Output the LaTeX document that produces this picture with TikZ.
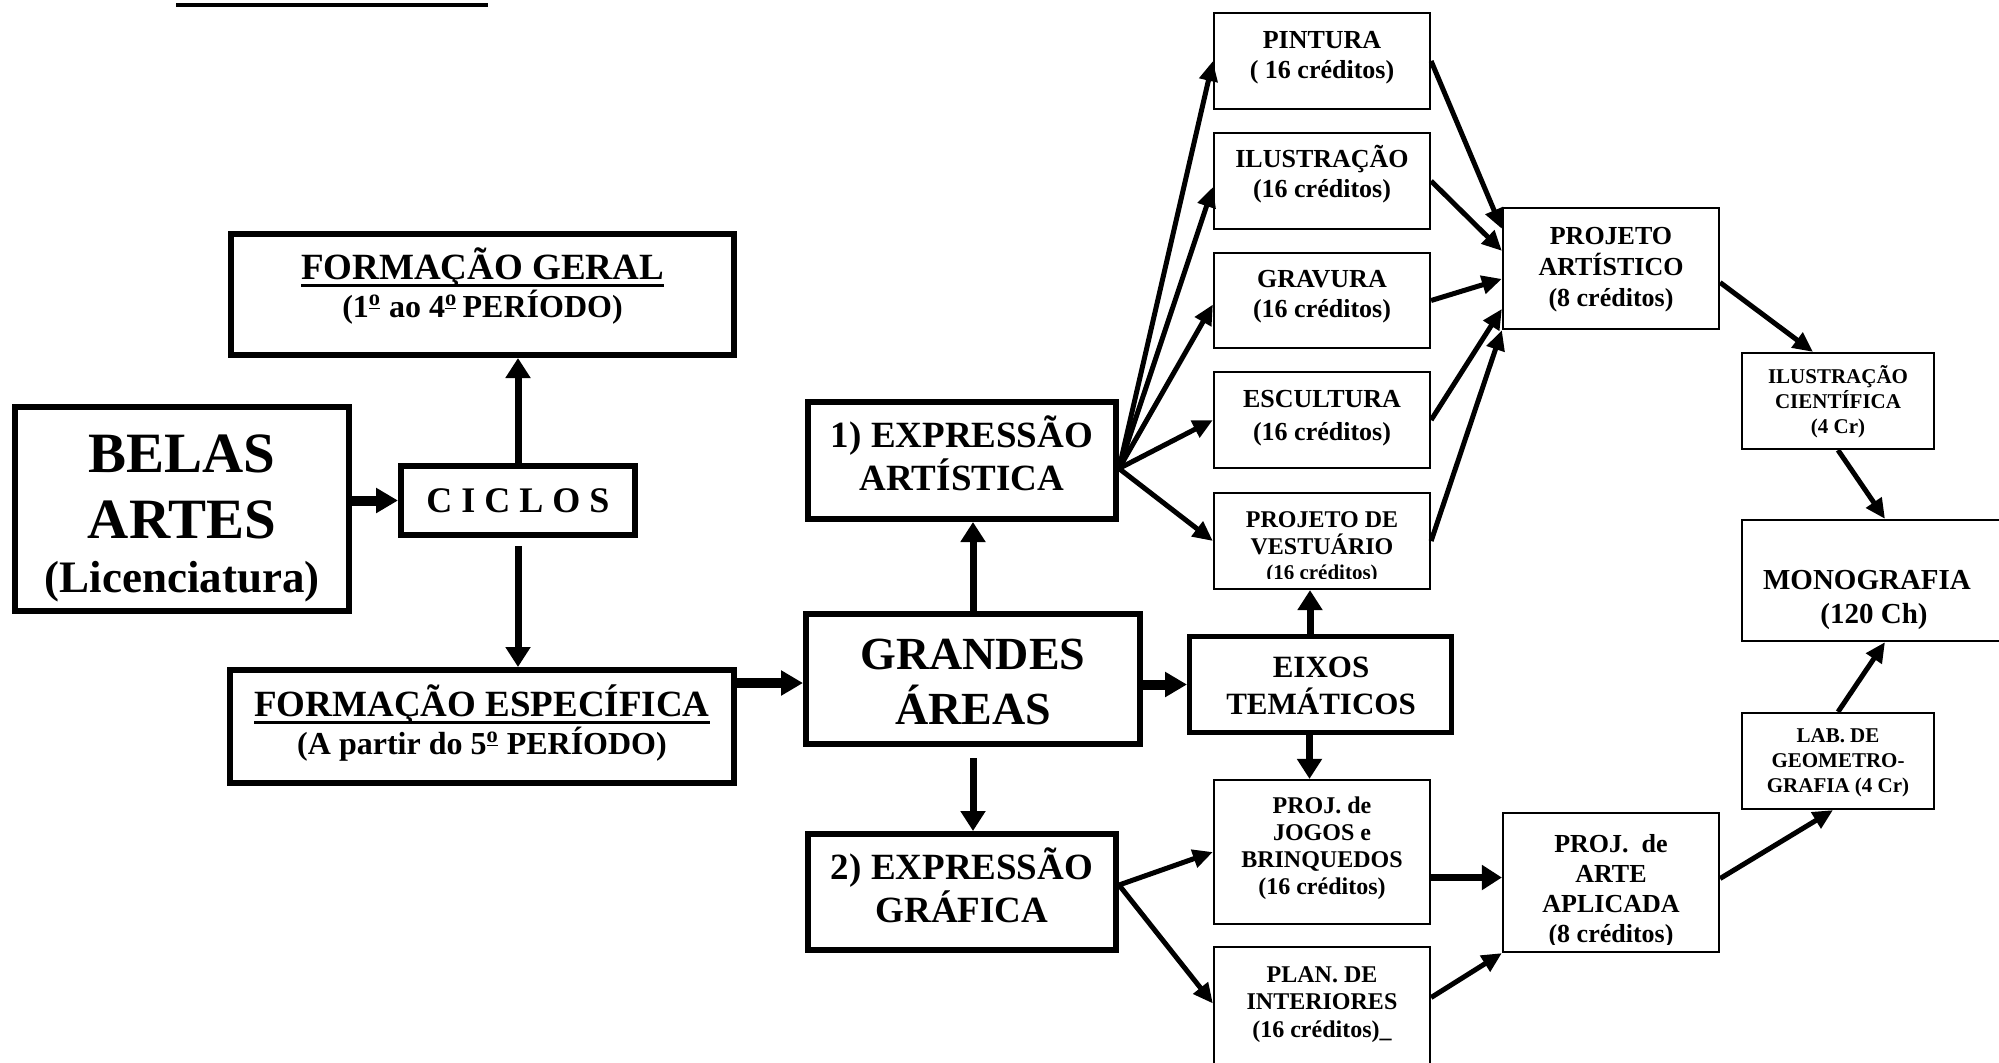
\documentclass[tikz,border=0pt]{standalone}
\usepackage{fontspec}
\setmainfont{Liberation Serif}
\usetikzlibrary{arrows.meta}
\newcommand\topstr{\rule{0pt}{0.95em}}
\newcommand\botstr{\rule[-0.25em]{0pt}{0.25em}}
\newcommand\ulin[1]{\setbox0=\hbox{#1}\makebox[0pt][l]{\rule[-3.75pt]{\wd0}{1.5pt}}\box0}
\newcommand\ordm{\textsuperscript{\underline{o}}}
\tikzset{
  thickbox/.style={draw, line width=3pt, inner sep=0pt},
  thinbox/.style={draw, line width=1.1pt, inner sep=0pt},
  tx/.style 2 args={align=center, inner sep=0pt, font=\fontsize{#1}{#2}\selectfont\bfseries},
  arr/.style={line width=2.5pt, -{Triangle[length=10pt,width=9pt]}},
  bigarr/.style={line width=3.5pt, -{Triangle[length=10pt,width=12pt]}},
  fatarr/.style={line width=5pt, -{Triangle[length=11pt,width=12pt]}},
}
\begin{document}
\begin{tikzpicture}[x=0.5pt,y=-0.5pt]
\useasboundingbox (0,0) rectangle (1999,1062);
% top rule
\draw[line width=2pt] (176,5) -- (488,5);

% boxes
\node[thickbox, minimum width=167pt, minimum height=102pt] (belas) at (182,509) {};
\node[thickbox, minimum width=251.5pt, minimum height=60.5pt] (fg) at (482.5,294.5) {};
\node[thickbox, minimum width=117pt, minimum height=34.5pt] (ciclos) at (518,500.5) {};
\node[thickbox, minimum width=252pt, minimum height=56.5pt] (fe) at (482,726.5) {};
\node[thickbox, minimum width=154pt, minimum height=58.5pt] (ea) at (962,460.5) {};
\node[thickbox, minimum width=167pt, minimum height=65pt] (ga) at (973,679) {};
\node[thickbox, minimum width=154pt, minimum height=58pt] (eg) at (962,892) {};
\node[thickbox, line width=2.5pt, minimum width=131pt, minimum height=48pt] (eixos) at (1320.5,684.5) {};
\node[thinbox, minimum width=108pt, minimum height=48pt] (pint) at (1322,61) {};
\node[thinbox, minimum width=108pt, minimum height=48pt] (ilus) at (1322,181) {};
\node[thinbox, minimum width=108pt, minimum height=47.5pt] (grav) at (1322,300.5) {};
\node[thinbox, minimum width=108pt, minimum height=48pt] (escu) at (1322,420) {};
\node[thinbox, minimum width=108pt, minimum height=48pt] (vest) at (1322,541) {};
\node[thinbox, minimum width=108pt, minimum height=72pt] (jogos) at (1322,852) {};
\node[thinbox, minimum width=108pt, minimum height=66.5pt] (plan) at (1322,1013.5) {};
\node[thinbox, minimum width=108pt, minimum height=60.5pt] (pa) at (1611,268.5) {};
\node[thinbox, minimum width=108pt, minimum height=69.5pt] (paa) at (1611,882.5) {};
\node[thinbox, minimum width=96pt, minimum height=48pt] (ic) at (1838,401) {};
\node[thinbox, minimum width=134pt, minimum height=60.5pt] (mono) at (1876,580.5) {};
\node[thinbox, minimum width=96pt, minimum height=48pt] (lab) at (1838,761) {};

% texts
\node[tx={18.5}{19}] (fg-t) at (482.5,285.4) {\topstr\ulin{FORMAÇÃO GERAL}\\{\fontsize{16}{19}\selectfont(1\ordm\ ao 4\ordm\,PERÍODO)\botstr}};
\node[tx={28.5}{33}] (belas-t) at (182,511.5) {\topstr BELAS\\ARTES\\[-6pt]{\fontsize{22.5}{27}\selectfont(Licenciatura)\botstr}};
\node[tx={18}{20}] (ciclos-t) at (518,499.4) {\topstr C I C L O S\botstr};
\node[tx={18.5}{19}] (fe-t) at (482,722.4) {\topstr\ulin{FORMAÇÃO ESPECÍFICA}\\{\fontsize{16}{19}\selectfont(A partir do 5\ordm\ PERÍODO)\botstr}};
\node[tx={18.5}{21.5}] (ea-t) at (962,456.5) {\topstr 1) EXPRESSÃO\\ARTÍSTICA\botstr};
\node[tx={23}{27.5}] (ga-t) at (973,680.4) {\topstr GRANDES\\ÁREAS\botstr};
\node[tx={18.5}{21.5}] (eg-t) at (962,888.5) {\topstr 2) EXPRESSÃO\\GRÁFICA\botstr};
\node[tx={15.5}{18.5}] (eixos-t) at (1321,685.6) {\topstr EIXOS\\TEMÁTICOS\botstr};
\node[tx={13}{15}] (pint-t) at (1322,53.9) {\topstr PINTURA\\( 16 créditos)\botstr};
\node[tx={13}{15}] (ilus-t) at (1322,172.9) {\topstr ILUSTRAÇÃO\\(16 créditos)\botstr};
\node[tx={13}{15}] (grav-t) at (1322,292.9) {\topstr GRAVURA\\(16 créditos)\botstr};
\node[tx={13}{16.5}] (escu-t) at (1322,414.4) {\topstr ESCULTURA\\(16 créditos)\botstr};
\begin{scope}
\clip (vest.north west) rectangle ([yshift=6pt]vest.south east);
\node[tx={12}{13.5}] (vest-t) at (1322,544.5) {\topstr PROJETO DE\\VESTUÁRIO\\[-1pt]{\fontsize{10.5}{12}\selectfont(16 créditos)\botstr}};
\end{scope}
\node[tx={12}{13.6}] (jogos-t) at (1322,845.6) {\topstr PROJ. de\\JOGOS e\\BRINQUEDOS\\(16 créditos)\botstr};
\node[tx={12}{13.75}] (plan-t) at (1322,1001.1) {\topstr PLAN. DE\\INTERIORES\\(16 créditos)\_\botstr};
\node[tx={13}{15.5}] (pa-t) at (1611,265.9) {\topstr PROJETO\\ARTÍSTICO\\(8 créditos)\botstr};
\begin{scope}
\clip (paa.north west) rectangle ([yshift=4.5pt]paa.south east);
\node[tx={13}{15}] (paa-t) at (1611,888.5) {\topstr PROJ.\ \ de\\ARTE\\APLICADA\\(8 créditos)\botstr};
\end{scope}
\node[tx={10.5}{12.5}] (ic-t) at (1838,400.7) {\topstr ILUSTRAÇÃO\\CIENTÍFICA\\(4 Cr)\botstr};
\node[tx={14.5}{17}] (mono-t) at (1867,595.9) {\topstr MONOGRAFIA\\\hspace*{7pt}(120 Ch)\botstr};
\node[tx={10.5}{12.5}] (lab-t) at (1838,760.6) {\topstr LAB. DE\\GEOMETRO-\\GRAFIA (4 Cr)\botstr};

% connectors
\draw[bigarr] (ciclos.north) -- (ciclos.north |- fg.south);
\draw[fatarr] (belas.east |- ciclos.west) -- (ciclos.west);
\coordinate (ciout) at ([yshift=-4pt]ciclos.south);
\draw[bigarr] (ciout) -- (ciout |- fe.north);
\coordinate (fg2) at ([yshift=-2pt]ga.west);
\draw[fatarr] (fe.east |- fg2) -- (fg2);
\draw[bigarr] (ga.north) -- (ga.north |- ea.south);
\coordinate (gaout) at ([yshift=-5.5pt]ga.south);
\draw[bigarr] (gaout) -- (gaout |- eg.north);
\draw[fatarr] (ga.east |- eixos.west) -- (eixos.west);
\coordinate (ex1) at ([xshift=-5.25pt]eixos.north);
\coordinate (ex2) at ([xshift=-5.5pt]eixos.south);
\draw[bigarr] (ex1) -- (ex1 |- vest.south);
\draw[bigarr] (ex2) -- (ex2 |- jogos.north);

\coordinate (eaout) at ([yshift=-4pt]ea.east);
\draw[arr] (eaout) -- (pint.west);
\draw[arr] (eaout) -- ([yshift=-3pt]ilus.west);
\draw[arr] (eaout) -- ([yshift=-2pt]grav.west);
\draw[arr] (eaout) -- (escu.west);
\draw[arr] (eaout) -- (vest.west);

\draw[arr] (pint.east) -- ([yshift=-11pt]pa.north west);
\draw[arr] (ilus.east) -- ([yshift=-22pt]pa.north west);
\draw[arr] (grav.east) -- ([yshift=-36pt]pa.north west);
\draw[arr] (escu.east) -- ([yshift=-51pt]pa.north west);
\draw[arr] (vest.east) -- (pa.south west);

\draw[arr] ([yshift=-7pt]pa.east) -- ([xshift=-12.5pt]ic.north);
\draw[arr] (ic.south) -- ([xshift=4.5pt]mono.north);
\draw[arr] (lab.north) -- ([xshift=4.5pt]mono.south);
\draw[arr] ([yshift=2pt]paa.east) -- ([xshift=-2.5pt]lab.south);

\coordinate (egout) at ([yshift=3.5pt]eg.east);
\draw[arr] (egout) -- (jogos.west);
\draw[arr] (egout) -- ([yshift=5pt]plan.west);
\coordinate (jp) at ([yshift=2.5pt]paa.west);
\draw[bigarr] (jogos.east |- jp) -- (jp);
\draw[arr] ([yshift=8pt]plan.east) -- (paa.south west);
\end{tikzpicture}
\end{document}
